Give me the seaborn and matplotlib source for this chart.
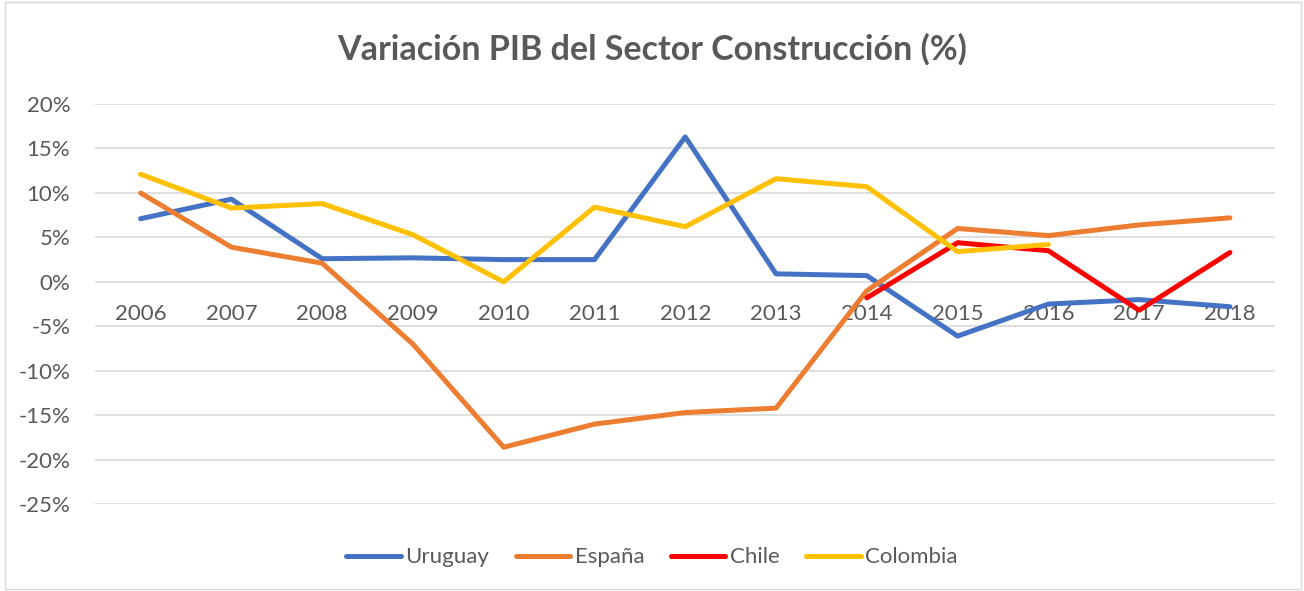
import numpy as np
import pandas as pd
import matplotlib
matplotlib.use("Agg")
import matplotlib.pyplot as plt
import seaborn as sns
from matplotlib.ticker import FuncFormatter

# ========== Data ==========
years = list(range(2006, 2019))
uruguay = [7.1, 9.3, 2.6, 2.7, 2.5, 2.5, 16.3, 0.9, 0.7, -6.1, -2.5, -2.0, -2.8]
espana = [10.0, 3.9, 2.1, -7.0, -18.6, -16.0, -14.7, -14.2, -1.0, 6.0, 5.2, 6.4, 7.2]
chile = [np.nan] * 8 + [-1.8, 4.4, 3.5, -3.2, 3.3]
colombia = [12.1, 8.3, 8.8, 5.3, 0.0, 8.4, 6.2, 11.6, 10.7, 3.4, 4.2, np.nan, np.nan]

series_names = ["Uruguay", "España", "Chile", "Colombia"]
series_colors = ["#4472C4", "#ED7D31", "#FF0000", "#FFC000"]
y_ticks = [20, 15, 10, 5, 0, -5, -10, -15, -20, -25]

df = pd.DataFrame({
    "Año": years * 4,
    "Valor": uruguay + espana + chile + colombia,
    "País": [n for n in series_names for _ in years],
})

# ========== Style ==========
sns.set_style("white")
plt.rcParams["font.family"] = ["Lato", "DejaVu Sans"]
text_gray = "#595959"

fig = plt.figure(figsize=(13.04, 5.91), dpi=100)
ax = fig.add_axes([0.073, 0.147, 0.905, 0.677])

sns.lineplot(data=df, x="Año", y="Valor", hue="País", hue_order=series_names,
             palette=series_colors, linewidth=3.6, ax=ax, legend=True,
             solid_capstyle="round")

ax.set_xlim(2005.5, 2018.5)
ax.set_ylim(-25, 20)
ax.set_yticks(y_ticks)
ax.yaxis.set_major_formatter(FuncFormatter(lambda v, p: f"{int(v)}%"))
ax.set_xticks(years)
ax.set_xticklabels([str(y) for y in years])
ax.grid(axis="y", color="#D9D9D9", linewidth=1.2)
ax.set_axisbelow(True)
for s in ax.spines.values():
    s.set_visible(False)
ax.spines["bottom"].set_position(("data", 0))
ax.tick_params(axis="x", length=0, pad=16, labelsize=16, labelcolor=text_gray)
ax.tick_params(axis="y", length=0, pad=18, labelsize=16, labelcolor=text_gray)
ax.set_xlabel("")
ax.set_ylabel("")

fig.suptitle("Variación PIB del Sector Construcción (%)", x=0.5, y=0.945,
             fontsize=24.5, fontweight="bold", color=text_gray)

handles, labels = ax.get_legend_handles_labels()
ax.legend(handles, labels, loc="center", ncol=4, frameon=False, fontsize=16,
          handlelength=2.45, columnspacing=1.2, handletextpad=0.2,
          labelcolor=text_gray)
ax.get_legend().set_bbox_to_anchor((0.5, 0.057), transform=fig.transFigure)

# light chart border
fig.patches.append(plt.Rectangle((0.004, 0.003), 0.994, 0.994, transform=fig.transFigure,
                                 fill=False, edgecolor="#D9D9D9", linewidth=1))

fig.savefig("out.png", dpi=100)
